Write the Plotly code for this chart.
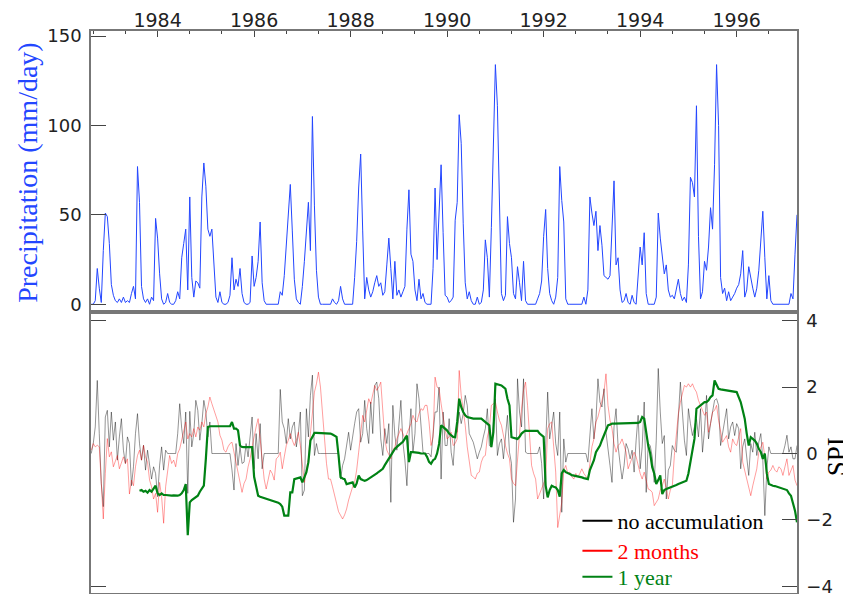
import numpy as np
import plotly.graph_objects as go

# ---- data (semi-monthly samples starting mid-1982) ----
start_year = 1982.625
step_year = 1.0 / 24.0

precip = [
    0, 0, 2, 20, 9, 1, 30, 51, 49, 34, 11, 5, 2,
    1, 3, 1, 4, 1, 2, 1, 6, 10, 3,
    77, 57, 10, 3, 1, 3, 0, 4, 2,
    48, 37, 17, 3, 0, 1, 6, 1, 0, 0, 2, 7, 3,
    26, 34, 42, 8, 60, 15, 4, 13, 12, 9,
    60, 79, 66, 42, 38, 42, 20, 4, 1, 7, 1, 0, 0, 1,
    5, 26, 8, 14, 10, 20, 6, 1, 0, 0, 1,
    27, 10, 15, 24, 46, 12, 2, 0, 0, 0, 0, 0, 0, 0, 7,
    5, 16, 32, 50, 67, 41, 14, 3, 1, 0,
    10, 24, 40, 57, 30, 105, 55, 19, 4,
    0, 0, 0, 0, 0, 0, 3, 1, 0, 2, 10, 3,
    0, 0, 0, 0, 0,
    15, 35, 65, 84, 41, 3, 15, 8, 4, 7, 12, 16, 10, 12, 5, 7,
    22, 37, 20, 3, 24, 5, 8, 4, 7, 10,
    42, 64, 28, 24, 8, 2, 14, 3, 6, 1,
    0, 0, 0,
    20, 65, 25, 56, 78, 40, 5, 4, 1, 2, 4,
    47, 57, 106, 90, 45, 12, 3, 7, 2,
    0, 0, 4, 0, 1,
    8, 36, 26, 4, 43, 82, 134, 111, 54, 6, 2, 5,
    49, 34, 26, 6, 3, 21, 12, 2, 24, 2,
    0, 0, 0, 0, 0,
    3, 6, 13, 38, 53, 20, 6, 2, 0, 4,
    15, 77, 58, 46, 3,
    0, 0, 0, 0, 0, 0, 0, 0, 4, 0,
    8, 60, 51, 44, 52, 30, 44, 33, 16, 15, 14, 16,
    41, 69, 22, 26, 8, 1,
    2, 6, 1, 0, 5, 1, 0,
    16, 32, 22, 40, 6,
    0, 0, 0, 0,
    4, 51, 37, 25, 17, 22, 8, 4, 5, 3,
    9, 14, 6, 2, 4, 1,
    22, 71, 68, 60, 111, 38, 3,
    7, 24, 19, 32, 54, 42, 78, 134, 100, 15, 6, 9, 2, 7,
    2, 4, 6, 9, 11, 17, 30, 4, 8, 21, 14, 9, 4, 9, 19, 34, 52, 26, 3, 16, 2,
    0, 0, 0, 0, 0, 0, 0, 0, 0,
    6, 3, 28, 50,
]

spi_none = [
    0, 0.3, 0.8, 2.2, 0.6, -0.9, -1.6, 1.1, 1.3, 0.2,
    1.25, 0.4, 0.95, -0.2, 0.5, 1.05, 0.1, -0.3, 0.5, 0.3,
    -0.97, -0.4, 0.6, 1.2, 0.3, -0.2, 0.25, -0.5, 0.1, -0.3,
    -0.77, -0.4, -0.6, -1.3, -0.35, 0.2, -0.5, 0.1, 0, 0,
    0, 0, 0, 0.6, 1.5, 0.75, 0.3, 1.25, -1.2, 1.27,
    0.2, 0.6, 1.6, 1.3, 0.4, 0.9, 1.6, 1.25, 0.5, 0.95,
    0, 0, 0, 0, 0, 0, 0, 0, 0, 0,
    -0.5, -1.1, 0.3, -0.36, 0.2, -0.3, -0.26, 0.3, -0.1, 0.5,
    1.1, -0.46, 0.6, -0.16, 0.9, -0.46, 0, 0, 0, 0,
    0, 0, 0, 0, 1.93, 0.95, 0.75, 0.3, 1.05, 0.44,
    0.8, 0.95, 0.2, 0.6, 1.25, -1.27, -1.1, 1.35, 0.5, 1.75,
    2.36, -0.06, 0.3, 0, 0, 0, 0, 0, 0, 0,
    0, 0, 0, 0, -0.77, -0.36, -0.16, 0.2, 0.64, 0.1,
    0.54, 0.9, 1.25, 1.35, 0.34, 0.6, 1.6, 0.75, 0.3, 1.55,
    0.6, 2.05, 2.15, 1.65, 0.44, -0.06, 0.75, 0.3, 0.9, -1.47,
    1.45, 0.54, 0.1, 0.8, 1.6, 0.34, -0.2, -0.97, 0.5, 1.35,
    0.04, 0.6, 2.1, 1.65, 0.7, 0.04, 0, 0, 0, -0.1,
    0.5, 1.25, 1.25, 2.0, -0.77, 1.25, 0.24, 0.24, 1.05, 0.04,
    -0.36, 0.6, 0.64, 1.25, 0.9, 1.2, 1.75, 1.45, 0.6, 0.44,
    0.34, 0.1, -0.16, 0.04, 0.2, 0.5, 0.75, 1.35, 0.24, 0.2,
    0.9, 1.65, -0.06, 0.3, 0.44, -0.16, 0.5, 1.15, 0.04, -0.3,
    -2.07, -1.37, 2.25, 1.25, 0.8, 2.25, 0.04, 0, 0, 0,
    0, 0, 0, 0.2, -0.3, -1.37, 0.5, 1.85, 0.44, 0.8,
    1.25, 0.3, -0.06, 1.25, -1.77, 0.44, -0.26, 0, 0, 0,
    0, 0, 0, 0, 0, 0, 0, -0.26, 0.5, 1.35,
    0.44, 1.0, 2.25, 1.55, 1.4, 1.95, 0.64, 0.2, -0.36, -0.87,
    0.8, 1.35, 0.24, -0.3, -0.77, -0.36, 0.3, 0.14, -0.16, 0.1,
    -0.56, 0.4, 1.15, -0.46, 0.2, 1.55, -1.17, 0.3, 0.24, -0.1,
    -0.87, 0.4, 2.56, 1.25, 0.3, 0.54, -1.37, -0.5, -0.36, 0.24,
    0.1, 0.04, 1.3, 2.15, 1.25, 0.4, -0.06, 1.35, 0.9, 0.54,
    0.8, 1.05, 0.5, 1.35, 0.04, 0.7, 1.75, 0.44, 0.9, 1.25,
    1.6, 1.65, 1.45, 0.24, 0.6, 0.9, 1.35, 0.44, 0.8, 0.95,
    0.54, 0.9, 0.75, -0.46, 0.2, 0.44, -0.1, -0.66, 0.3, 0.04,
    0.64, -0.06, 0.34, 0.6, -0.2, -1.87, -0.46, 0.2, 0, 0,
    0, 0, 0, 0, 0, 0.24, 0.55, 0.04, 0.2, -0.16, -0.16, 0.24,
]

spi_2months = [
    0.1, 0.3, 0.2, 0.25, 0.2, -0.8, -1.97, -0.6, 0.45, -0.1,
    0.05, -0.4, -0.2, -0.06, -0.46, -0.3, -0.1, -0.3, -0.16, -1.22,
    -0.8, -0.97, -0.4, -0.06, 0.1, -0.2, 0.24, -0.1, -0.26, -0.8,
    -1.0, -1.37, -1.2, -1.77, -0.87, -1.3, -2.1, -1.0, -0.46, -0.06,
    -0.3, -0.2, -0.4, 0.0, 0.14, 0.4, 0.7, 0.95, 0.44, 0.6,
    0.5, 0.75, 0.5, 0.8, 0.7, 0.95, 0.8, 1.2, 1.4, 1.7,
    1.5, 1.3, 1.1, 0.95, 0.55, 0.4, 0.1, 0.04, 0.2, 0.3,
    0.34, 0.04, -0.2, -0.46, -0.8, -1.17, -0.9, -0.77, -0.4, -0.16,
    0.2, 0.55, 0.8, 1.05, 0.4, -0.06, -0.77, -1.07, -0.8, -0.5,
    -0.6, -0.8, -0.16, -0.1, 0.04, -0.46, -0.1, 0.24, 0.4, 0.6,
    0.4, 0.24, 0.4, 0.64, 0.24, -0.3, -0.87, -0.5, -0.16, 0.6,
    1.25, 1.85, 2.1, 2.45, 2.0, 1.25, 0.44, -0.3, -0.77, -0.77,
    -1.0, -1.3, -1.5, -1.75, -1.87, -1.97, -1.85, -1.67, -1.4, -1.17,
    -1.0, -0.87, -0.5, 0.04, 0.6, 1.15, 0.95, 1.3, 1.65, 1.5,
    1.8, 2.05, 1.9, 2.0, 2.15, 1.3, 0.44, 0.1, -0.06, -0.16,
    0.1, 0.2, 0.44, 0.6, 0.75, 0.6, 0.44, 0.6, 0.75, 0.9,
    1.15, 1.0, 0.95, 1.2, 1.35, 1.3, 1.45, 1.45, 0.95, 0.24,
    0.5, 2.3, 2.0, 1.95, 1.5, 1.05, 0.7, 0.44, 0.5, 0.64,
    0.24, 0.3, 0.44, 2.5, 1.75, 1.3, 0.85, 0.2, -0.26, -0.66,
    -0.7, -0.77, -0.6, -0.56, -0.26, -0.1, -0.06, 0.5, 0.75, 1.45,
    1.5, 1.55, 1.25, 1.0, 0.85, 0.5, 0.24, 0.0, -0.16, -0.77,
    -0.9, -0.97, -0.16, 0.6, 1.35, 1.9, 2.15, 1.45, 0.5, -0.36,
    -0.6, -0.77, -1.37, -1.2, -1.07, -0.9, -0.77, 0.75, 0.9, 0.95,
    0.2, -0.56, -2.23, -1.9, -1.47, -0.5, -0.36, -0.6, -0.56, -0.7,
    -0.77, -0.6, -0.71, -0.6, -0.46, -0.6, -0.7, -0.77, -0.3, 0.2,
    0.44, 0.95, 1.1, 1.35, 1.6, 1.85, 2.4, 1.45, 1.0, 0.75,
    0.3, 0.04, 0.24, 0.3, 0.44, 0.2, 0.04, -0.46, -0.3, -0.16,
    0.04, -0.1, -0.36, -0.6, -0.77, -0.56, -0.8, -1.07, -1.1, -1.17,
    -1.57, -1.45, -1.37, -1.1, -0.97, -0.77, -1.1, -1.37, -1.1, -0.97,
    -0.06, 0.6, 1.2, 1.55, 1.8, 2.05, 2.0, 2.1, 2.0, 2.1,
    1.95, 1.85, 1.6, 1.45, 1.3, 1.15, 1.25, 0.64, 0.9, 1.25,
    1.3, 1.45, 1.0, 0.64, 0.34, 0.44, 0.54, 0.2, 0.04, 0.44,
    0.3, 0.24, 0.5, 0.75, -0.26, -0.5, -0.77, -1.0, -1.27, -0.97,
    -0.7, -0.46, 0.04, 0.2, 0.34, -0.1, -0.77, -0.56, -0.5, -0.36,
    -0.5, -0.56, -0.4, -0.46, -0.66, -0.4, -0.16, -0.66, -0.5, -0.36, -0.8, -0.97,
]

spi_1year = [None] * 24 + [
    -1.12, -1.1, -1.15, -1.12, -1.18, -1.1, -1.15, -1.05, -0.97, -1.2,
    -1.25, -1.2, -1.25, -1.25, -1.26, -1.25, -1.27, -1.26, -1.27, -1.27,
    -1.25, -1.2, -1.1, -0.92, -2.46, -1.47, -1.4, -1.35, -1.3, -1.27,
    -1.15, -1.05, -0.97, -0.16, 0.8, 0.82, 0.82, 0.82, 0.82, 0.82,
    0.82, 0.82, 0.82, 0.82, 0.82, 0.82, 0.95, 0.75, 0.75, 0.7,
    0.24, 0.2, 0.19, 0.19, 0.19, 0.19, 0.19, -0.7, -1.05, -1.27,
    -1.3, -1.32, -1.34, -1.36, -1.38, -1.4, -1.41, -1.42, -1.45, -1.48,
    -1.52, -1.6, -1.87, -1.87, -1.87, -1.17, -1.17, -0.77, -0.75, -0.72,
    -0.72, -0.87, -0.7, -0.56, -0.26, 0.39, 0.5, 0.62, 0.62, 0.62,
    0.62, 0.62, 0.62, 0.62, 0.62, 0.6, 0.57, 0.54, 0.5, -0.06,
    -0.71, -0.75, -0.77, -0.92, -0.9, -0.88, -0.87, -1.02, -0.9, -0.66,
    -0.77, -0.8, -0.82, -0.8, -0.76, -0.72, -0.68, -0.66, -0.6, -0.55,
    -0.5, -0.46, -0.35, -0.25, -0.16, -0.05, 0.05, 0.14, 0.2, 0.25,
    0.29, 0.35, 0.45, 0.54, -0.26, 0.04, 0.04, 0.04, 0.04, 0.02,
    0.0, 0.0, 0.0, -0.1, -0.25, -0.31, -0.2, -0.16, 0.0, 0.29,
    0.85, 0.8, 0.75, 0.69, 0.6, 0.54, 0.5, 0.49, 0.95, 1.65,
    1.4, 1.25, 1.15, 1.1, 1.08, 1.06, 1.05, 1.05, 1.05, 1.05,
    1.05, 1.0, 0.95, 0.9, 0.85, 0.19, 0.64, 2.1, 2.08, 2.06,
    2.05, 2.0, 1.95, 1.65, 1.45, 0.49, 0.47, 0.45, 0.44, 0.5,
    0.6, 0.65, 0.69, 0.68, 0.68, 0.68, 0.68, 0.68, 0.68, 0.6,
    0.54, 0.5, -0.97, -1.32, -1.1, -0.97, -1.0, -1.02, -1.1, -1.3,
    -0.6, -0.5, -0.56, -0.6, -0.62, -0.65, -0.66, -0.68, -0.7, -0.71,
    -0.72, -0.74, -0.75, -0.77, -0.5, -0.36, -0.2, 0.04, 0.15, 0.24,
    0.4, 0.55, 0.7, 0.85, 0.87, 0.9, 0.9, 0.9, 0.9, 0.9,
    0.9, 0.9, 0.9, 0.9, 0.9, 0.9, 0.9, 0.9, 0.92, 0.95,
    1.1, 1.05, 0.6, 0.24, 0.0, -0.41, -0.6, -0.92, -0.8, -0.66,
    -1.22, -1.1, -1.07, -1.05, -1.02, -1.0, -0.97, -0.95, -0.92, -0.9,
    -0.87, -0.85, -0.82, -0.6, -0.26, 0.1, 0.44, 1.35, 1.4, 1.45,
    1.5, 1.55, 1.55, 1.6, 1.7, 1.75, 2.2, 2.05, 1.95, 1.93,
    1.92, 1.9, 1.9, 1.89, 1.88, 1.87, 1.86, 1.85, 1.7, 1.55,
    1.3, 1.05, 0.6, 0.24, 0.49, 0.45, 0.39, 0.3, 0.14, 0.05,
    -0.16, 0.0, -0.6, -0.92, -0.95, -0.97, -0.98, -1.0, -1.02, -1.04,
    -1.05, -1.07, -1.1, -1.2, -1.27, -1.5, -1.72, -2.07,
]

year_ticks = [1984, 1986, 1988, 1990, 1992, 1994, 1996]
precip_ticks = [0, 50, 100, 150]
spi_ticks = [-4, -2, 0, 2, 4]
legend_names = ["no accumulation", "2 months", "1 year"]


def times(n):
    return start_year + np.arange(n) * step_year


BLUE = "rgb(35,70,255)"
GREEN = "rgb(0,130,20)"
FRAME = "#777777"
TICKFONT = dict(family="DejaVu Sans", size=18, color="#222222")
XTICKFONT = dict(family="DejaVu Sans", size=19, color="#222222")

fig = go.Figure()

fig.add_trace(go.Scatter(x=times(len(precip)), y=precip, mode="lines",
                         line=dict(color=BLUE, width=1),
                         xaxis="x", yaxis="y", showlegend=False))

fig.add_trace(go.Scatter(x=times(len(spi_none)), y=spi_none, mode="lines",
                         line=dict(color="rgba(0,0,0,0.42)", width=1),
                         xaxis="x2", yaxis="y2", showlegend=False))
fig.add_trace(go.Scatter(x=times(len(spi_2months)), y=spi_2months, mode="lines",
                         line=dict(color="rgba(255,0,0,0.38)", width=1),
                         xaxis="x2", yaxis="y2", showlegend=False))
fig.add_trace(go.Scatter(x=times(len(spi_1year)), y=spi_1year, mode="lines",
                         line=dict(color=GREEN, width=2.2),
                         xaxis="x2", yaxis="y2", showlegend=False,
                         connectgaps=False))

# legend entries, one small legend each so the rows can be spaced like the original
leg_colors = ["black", "red", GREEN]
leg_ids = ["legend", "legend2", "legend3"]
for name, lc, lid in zip(legend_names, leg_colors, leg_ids):
    fig.add_trace(go.Scatter(x=[None], y=[None], mode="lines",
                             line=dict(color=lc, width=2),
                             name=f'<span style="color:{lc}">{name}</span>',
                             legend=lid,
                             xaxis="x2", yaxis="y2", showlegend=True))

# dummy traces so the helper axes are rendered
fig.add_trace(go.Scatter(x=[None], y=[None], xaxis="x2", yaxis="y3",
                         showlegend=False, hoverinfo="skip"))
fig.add_trace(go.Scatter(x=[None], y=[None], xaxis="x3", yaxis="y",
                         showlegend=False, hoverinfo="skip"))

xrange = [1982.62, 1997.25]


def legend_at(ypos):
    return dict(x=0.689, y=ypos, xanchor="left", yanchor="middle",
                bgcolor="rgba(0,0,0,0)", borderwidth=0,
                font=dict(family="Liberation Serif", size=22, color="black"),
                itemwidth=30)


# the page body has an 8px margin; the figure is sized to fill the rest
fig.update_layout(
    width=843, height=586,
    margin=dict(l=83, r=54, t=23, b=1, autoexpand=False),
    paper_bgcolor="white", plot_bgcolor="white",
    showlegend=True,
    legend=legend_at(0.128),
    legend2=legend_at(0.0747),
    legend3=legend_at(0.0285),
    xaxis=dict(domain=[0, 1], range=xrange, anchor="y", side="top",
               automargin=False,
               showgrid=False, zeroline=False,
               showline=True, linecolor=FRAME, linewidth=1.5, mirror=True,
               ticks="inside", ticklen=6, tickcolor="#444", tickwidth=1,
               tickvals=year_ticks, showticklabels=False,
               minor=dict(ticks="inside", ticklen=3, tickcolor="#444",
                          tick0=1984, dtick=2/3, showgrid=False)),
    # label-only axis for the year labels
    xaxis3=dict(overlaying="x", range=xrange, anchor="free", position=1.0,
                side="top", automargin=False, showgrid=False, zeroline=False,
                showline=False, ticks="", tickvals=year_ticks,
                tickfont=XTICKFONT, ticklabeloverflow="allow"),
    yaxis=dict(domain=[0.5036, 1], range=[-3.2, 152.8], anchor="x",
               automargin=False,
               showgrid=False, zeroline=False,
               showline=True, linecolor=FRAME, linewidth=1.5, mirror=True,
               ticks="inside", ticklen=15, tickcolor="#444", tickwidth=1,
               tickvals=precip_ticks, tickfont=TICKFONT, ticklabelstandoff=4,
               ticklabeloverflow="allow"),
    xaxis2=dict(domain=[0, 1], range=xrange, anchor="y2",
                automargin=False,
                showgrid=False, zeroline=False, showticklabels=False,
                showline=True, linecolor=FRAME, linewidth=1.5, mirror=True,
                ticks=""),
    yaxis2=dict(domain=[0, 0.4964], range=[-4.2, 4.2], anchor="x2", side="right",
                automargin=False,
                showgrid=False, zeroline=False,
                showline=True, linecolor=FRAME, linewidth=1.5, mirror=True,
                ticks="inside", ticklen=15, tickcolor="#444", tickwidth=1,
                tickvals=spi_ticks, tickfont=TICKFONT, ticklabelstandoff=4,
                ticklabeloverflow="allow"),
    yaxis3=dict(overlaying="y2", range=[-4.2, 4.2], anchor="x2", side="left",
                automargin=False,
                showgrid=False, zeroline=False, showline=False,
                showticklabels=False, ticks="inside", ticklen=15,
                tickcolor="#444", tickvals=[-4, 4]),
    annotations=[
        dict(text="Precipitation (mm/day)", textangle=-90,
             xref="paper", yref="paper", x=-0.091, y=0.749,
             xanchor="center", yanchor="middle", showarrow=False,
             font=dict(family="Liberation Serif", size=28, color=BLUE)),
        dict(text="SPI", textangle=-90,
             xref="paper", yref="paper", x=1.057, y=0.242,
             xanchor="center", yanchor="middle", showarrow=False,
             font=dict(family="Liberation Serif", size=27, color="black")),
    ],
)

fig.write_html("out.html")
